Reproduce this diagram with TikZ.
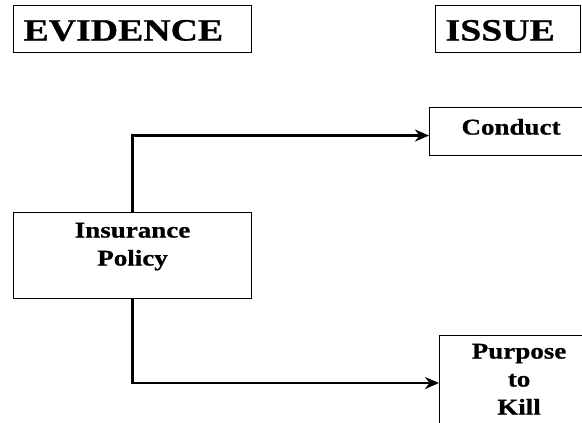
\documentclass[tikz,border=0pt]{standalone}
\usepackage{fontspec}
\setmainfont{Liberation Serif}
\newfontfamily\bodyfont[FakeStretch=1.2, BoldFeatures={FakeBold=0.8}]{Liberation Serif}
\newfontfamily\headfont[FakeStretch=1.22, BoldFeatures={FakeBold=0.8}]{Liberation Serif}
\usetikzlibrary{arrows.meta}
\begin{document}
\begin{tikzpicture}[x=1pt, y=-1pt,
  box/.style={draw=black, line width=1.1pt, anchor=north west, inner xsep=0pt, inner ysep=0pt, align=center, font=\bodyfont\fontsize{22.5}{28}\selectfont\bfseries},
  head/.style={box, align=left, inner xsep=10pt, font=\headfont\fontsize{31}{35}\selectfont\bfseries, text height=35pt, text depth=12pt},
  link/.style={line width=2.5pt, -{Stealth[length=14pt, width=12pt, inset=4.5pt]}}]
\useasboundingbox (0,0) rectangle (582,423);
\clip (0,0) rectangle (582,423);
\node (evidence) at (13,5) [head, text width=218pt] {EVIDENCE};
\node (issue) at (435,5) [head, text width=125pt] {ISSUE};
\node (conduct) at (429,107) [box, text width=163pt, text height=27pt, text depth=21pt] {Conduct};
\node (policy) at (13,212) [box, text width=238pt, text height=25pt, text depth=61pt] {Insurance\\Policy};
\node (purpose) at (439,335) [box, text width=159pt, text height=23pt, text depth=100pt] {Purpose\\to\\Kill};
\draw [link] (policy.north) |- ([yshift=-4pt]conduct.west);
\draw [link] (policy.south) |- ([yshift=-48pt]purpose.north west);
\end{tikzpicture}
\end{document}
